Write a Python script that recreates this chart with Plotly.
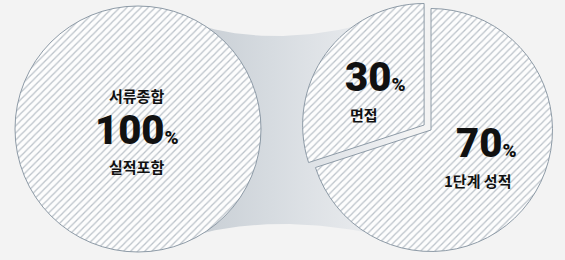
import numpy as np
import plotly.graph_objects as go

# ---- data ----
left_labels = ["서류종합"]
left_values = [100]
left_title = "서류종합"
left_sub = "실적포함"

right_labels = ["면접", "1단계 성적"]
right_values = [30, 70]
right_pull = [0.07, 0]

W, H = 565, 260
BG = "#f3f3f3"
HATCH = dict(shape="/", fgcolor="#bcc3ca", bgcolor="#fdfdfd", size=5, solidity=0.25)
EDGE = dict(color="#8e9ba7", width=1)

fig = go.Figure()

# ---- connector band (decoration) ----
def bez(p0, p1, p2, n=60):
    t = np.linspace(0, 1, n)[:, None]
    p0, p1, p2 = map(np.array, (p0, p1, p2))
    return (1 - t) ** 2 * p0 + 2 * (1 - t) * t * p1 + t ** 2 * p2

top = bez((196, 24), (275, 50), (380, 20))
bot = bez((385, 236), (275, 212), (192, 236))
pts = np.vstack([top, [[405, 130]], bot, [[160, 130]], top[:1]])
fig.add_trace(go.Scatter(
    x=pts[:, 0], y=pts[:, 1], mode="lines", fill="toself",
    line=dict(width=0), hoverinfo="skip", showlegend=False,
    fillgradient=dict(type="horizontal",
                      colorscale=[[0, "#c1c8cf"], [0.45, "#d6dbe0"], [1, "#f0f1f3"]]),
))

# ---- pies ----
fig.add_trace(go.Pie(
    labels=left_labels, values=left_values, sort=False, textinfo="none",
    marker=dict(colors=["#fdfdfd"], pattern=HATCH, line=EDGE),
    domain=dict(x=[15 / W, 261 / W], y=[8 / H, 254 / H]),
    hoverinfo="label+percent", showlegend=False,
))
# first slice (30%) placed just left of 12 o'clock
rot = -360 * right_values[0] / sum(right_values)
fig.add_trace(go.Pie(
    labels=right_labels, values=right_values, sort=False, textinfo="none",
    direction="clockwise", rotation=rot, pull=right_pull,
    marker=dict(colors=["#fdfdfd", "#fdfdfd"], pattern=HATCH, line=EDGE),
    domain=dict(x=[297 / W, 1.0], y=[0, 1]),
    hoverinfo="label+percent", showlegend=False,
))

# ---- labels ----
KR = "Noto Sans CJK KR"
NUM = "Roboto, Noto Sans CJK KR"
def big(v):
    return f"{v}<span style='font-size:19px'>%</span>"

ann = [
    (136, 95, left_title, KR, 15, 700),
    (137, 130, big(left_values[0]), NUM, 40, 900),
    (136, 166.5, left_sub, KR, 15, 700),
    (375, 77, big(right_values[0]), NUM, 40, 900),
    (364, 114.5, right_labels[0], KR, 15, 700),
    (486, 143.5, big(right_values[1]), NUM, 40, 900),
    (477, 180, right_labels[1], KR, 15, 700),
]
for x, y, t, fam, s, w in ann:
    fig.add_annotation(x=x, y=y, xref="x", yref="y", text=t, showarrow=False,
                       font=dict(family=fam, size=s, color="#111111", weight=w),
                       xanchor="center", yanchor="middle")

fig.update_layout(
    width=W, height=H, margin=dict(l=0, r=0, t=0, b=0),
    paper_bgcolor=BG, plot_bgcolor=BG,
    xaxis=dict(range=[0, W], visible=False, fixedrange=True),
    yaxis=dict(range=[H, 0], visible=False, fixedrange=True),
)
fig.write_html("out.html", config={"displayModeBar": False},
               post_script="document.body.style.margin='0';document.body.style.background='%s';" % BG)
